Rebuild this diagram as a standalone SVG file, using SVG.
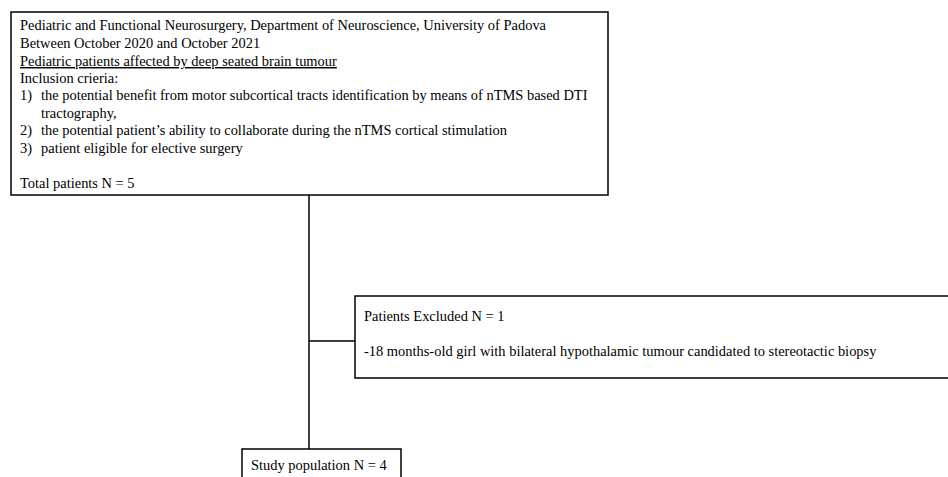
<svg xmlns="http://www.w3.org/2000/svg" width="948" height="477" viewBox="0 0 948 477">
<style>
.box{fill:#fff;stroke:#000;stroke-width:1.5}
.t{font-family:"Liberation Serif","Times New Roman",serif;font-size:14.45px;fill:#000}
.c{stroke:#000;stroke-width:1.5;fill:none}
</style>
<rect width="948" height="477" fill="#fff"/>
<g id="connectors">
<line class="c" x1="309" y1="195" x2="309" y2="450"/>
<line class="c" x1="309" y1="341" x2="355" y2="341"/>
</g>
<g id="node-total">
<rect class="box" x="11" y="12" width="597" height="183"/>
<text class="t" x="20" y="30">Pediatric and Functional Neurosurgery, Department of Neuroscience, University of Padova</text>
<text class="t" x="20" y="48">Between October 2020 and October 2021</text>
<text class="t" x="20" y="66" text-decoration="underline">Pediatric patients affected by deep seated brain tumour</text>
<text class="t" x="20" y="83">Inclusion crieria:</text>
<text class="t" x="20" y="100">1)</text>
<text class="t" x="41" y="100">the potential benefit from motor subcortical tracts identification by means of nTMS based DTI</text>
<text class="t" x="41" y="118">tractography,</text>
<text class="t" x="20" y="135">2)</text>
<text class="t" x="41" y="135">the potential patient’s ability to collaborate during the nTMS cortical stimulation</text>
<text class="t" x="20" y="153">3)</text>
<text class="t" x="41" y="153">patient eligible for elective surgery</text>
<text class="t" x="20" y="188">Total patients N = 5</text>
</g>
<g id="node-excluded">
<rect class="box" x="355" y="296" width="600" height="82"/>
<text class="t" x="364" y="321">Patients Excluded N = 1</text>
<text class="t" x="364" y="356">-18 months-old girl with bilateral hypothalamic tumour candidated to stereotactic biopsy</text>
</g>
<g id="node-study">
<rect class="box" x="242" y="449" width="159" height="40"/>
<text class="t" x="251" y="470">Study population N = 4</text>
</g>
</svg>
